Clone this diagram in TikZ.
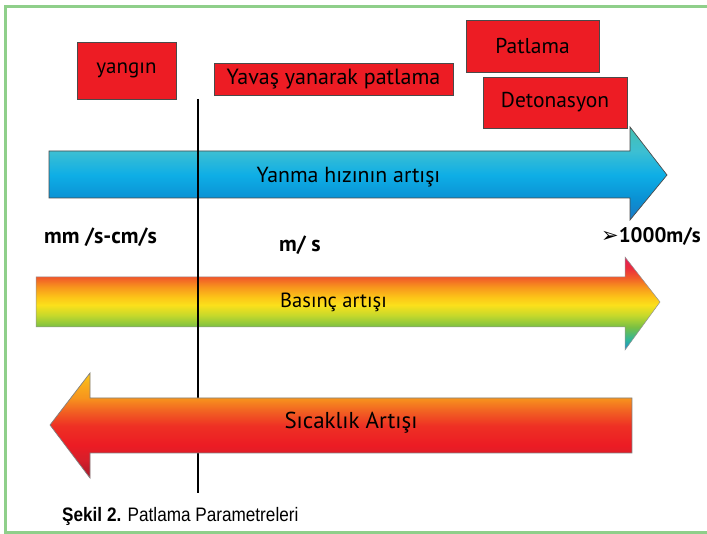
\documentclass[tikz,border=0pt]{standalone}
\usepackage{fontspec}
\setmainfont{PT Sans}
\newfontfamily\capfont[FakeStretch=0.88]{Liberation Sans}
\newfontfamily\symfont{DejaVu Sans}
\usetikzlibrary{shadows}

\definecolor{frameg}{HTML}{8FCF8A}
\definecolor{boxred}{HTML}{ED1C24}
\definecolor{edgegray}{HTML}{4A4A4A}
% blue arrow stops
\definecolor{bA}{HTML}{1B78C4}
\definecolor{bB}{HTML}{0A92D4}
\definecolor{bC}{HTML}{0EAEE6}
\definecolor{bD}{HTML}{3DBFD2}
\definecolor{bE}{HTML}{45BFB0}
% rainbow stops
\definecolor{rA}{HTML}{1C8AD0}
\definecolor{rB}{HTML}{2FB59A}
\definecolor{rC}{HTML}{79C043}
\definecolor{rD}{HTML}{C7D92B}
\definecolor{rE}{HTML}{FBE01B}
\definecolor{rF}{HTML}{FCC418}
\definecolor{rG}{HTML}{F7941D}
\definecolor{rH}{HTML}{F15A29}
\definecolor{rI}{HTML}{EC2D3C}
\definecolor{rJ}{HTML}{E41E5A}
% orange arrow stops
\definecolor{oA}{HTML}{A5182A}
\definecolor{oB}{HTML}{D61F2A}
\definecolor{oC}{HTML}{EC1C24}
\definecolor{oD}{HTML}{EE3124}
\definecolor{oE}{HTML}{F26522}
\definecolor{oF}{HTML}{F7941D}
\definecolor{oG}{HTML}{F9AC1C}
\definecolor{oH}{HTML}{FCC615}

% stops at 25 + 50 f bp
\pgfdeclareverticalshading{blueshade}{100bp}{color(0bp)=(bA); color(25bp)=(bA); color(36.8bp)=(bB); color(49.2bp)=(bC); color(62.1bp)=(bD); color(75bp)=(bE); color(100bp)=(bE)}
\pgfdeclareverticalshading{rainbowshade}{100bp}{color(0bp)=(rA); color(25bp)=(rA); color(30.4bp)=(rB); color(37.3bp)=(rC); color(43.8bp)=(rD); color(49.2bp)=(rE); color(53.5bp)=(rF); color(59bp)=(rG); color(64bp)=(rH); color(69bp)=(rI); color(75bp)=(rJ); color(100bp)=(rJ)}
\pgfdeclareverticalshading{orangeshade}{100bp}{color(0bp)=(oA); color(25bp)=(oA); color(33.5bp)=(oB); color(40.7bp)=(oC); color(50bp)=(oD); color(57.4bp)=(oE); color(63.1bp)=(oF); color(69.3bp)=(oG); color(75bp)=(oH); color(100bp)=(oH)}

\newcommand{\fsz}[1]{\fontsize{#1}{#1}\selectfont}

\tikzset{
  redbox/.style={draw=edgegray, line width=0.8pt, fill=boxred, inner sep=0pt,
    drop shadow={shadow xshift=1.2pt, shadow yshift=-1.5pt, opacity=0.25, fill=black}},
  arrowedge/.style={draw=edgegray, line width=0.7pt},
  arrowlabel/.style={inner sep=0pt},
  speedlabel/.style={inner sep=0pt, font=\bfseries\fsz{22}},
}

\begin{document}
\begin{tikzpicture}[x=1pt,y=-1pt]
\useasboundingbox (0,0) rectangle (707,534);
\fill[white] (0,0) rectangle (707,534);

% frame
\draw[frameg, line width=3pt] (707,7) -- (5,7) -- (5,532) -- (707,532);

% boxes
\node[redbox, minimum width=99pt, minimum height=57pt, font=\fsz{21}] (yangin) at (126.5,70.5) {yangın};
\node[redbox, minimum width=239pt, minimum height=32pt, font=\fsz{22}] (yavas) at (333.5,79) {Yavaş yanarak patlama};
\node[redbox, minimum width=133pt, minimum height=52pt, font=\fsz{21.5}] (patlama) at (532.5,46) {Patlama};
\node[redbox, minimum width=144pt, minimum height=51pt, font=\fsz{21.5}] (deton) at (555,102.5) {Detonasyon};

% blue arrow
\shade[shading=blueshade] (49,151) -- (630,151) -- (630,127) -- (667,175) -- (630,220) -- (630,198) -- (49,198) -- cycle;
\draw[arrowedge] (49,151) -- (630,151) -- (630,127) -- (667,175) -- (630,220) -- (630,198) -- (49,198) -- cycle;
\node[arrowlabel, font=\fsz{21.8}] (yanma) at (348.5,177) {Yanma hızının artışı};

% rainbow arrow
\shade[shading=rainbowshade] (36,277) -- (625,277) -- (625,257) -- (660,302) -- (625,350) -- (625,327) -- (36,327) -- cycle;
\draw[edgegray!60, line width=0.5pt] (36,277) -- (625,277) -- (625,257) -- (660,302) -- (625,350) -- (625,327) -- (36,327) -- cycle;
\node[arrowlabel, font=\fsz{20.5}] (basinc) at (333.5,302) {Basınç artışı};

% speed labels
\node[speedlabel] (mmcm) at (100.5,237) {mm /s-cm/s};
\node[speedlabel] (ms) at (300,245) {m/ s};
\node[speedlabel, font=\bfseries\fsz{21}, anchor=west] (fast) at (601,236) {{\symfont\mdseries\fsz{21}➢}1000m/s};

% vertical separator
\coordinate (vtop) at (198,99);
\coordinate (vbot) at (198,493);
\draw[line width=2.6pt, black] (vtop) -- (vbot);

% orange arrow (covers the line)
\shade[shading=orangeshade] (632,398) -- (90,398) -- (90,373) -- (50,425) -- (90,478) -- (90,453) -- (632,453) -- cycle;
\draw[arrowedge, draw=edgegray!70] (632,398) -- (90,398) -- (90,373) -- (50,425) -- (90,478) -- (90,453) -- (632,453) -- cycle;
\node[arrowlabel, font=\fsz{23}] (sicaklik) at (351,423) {Sıcaklık Artışı};

% caption
\node[anchor=base west, inner sep=0pt, font=\capfont\fsz{19.5}] (caption) at (62,521) {\textbf{Şekil 2.} Patlama Parametreleri};
\end{tikzpicture}
\end{document}
